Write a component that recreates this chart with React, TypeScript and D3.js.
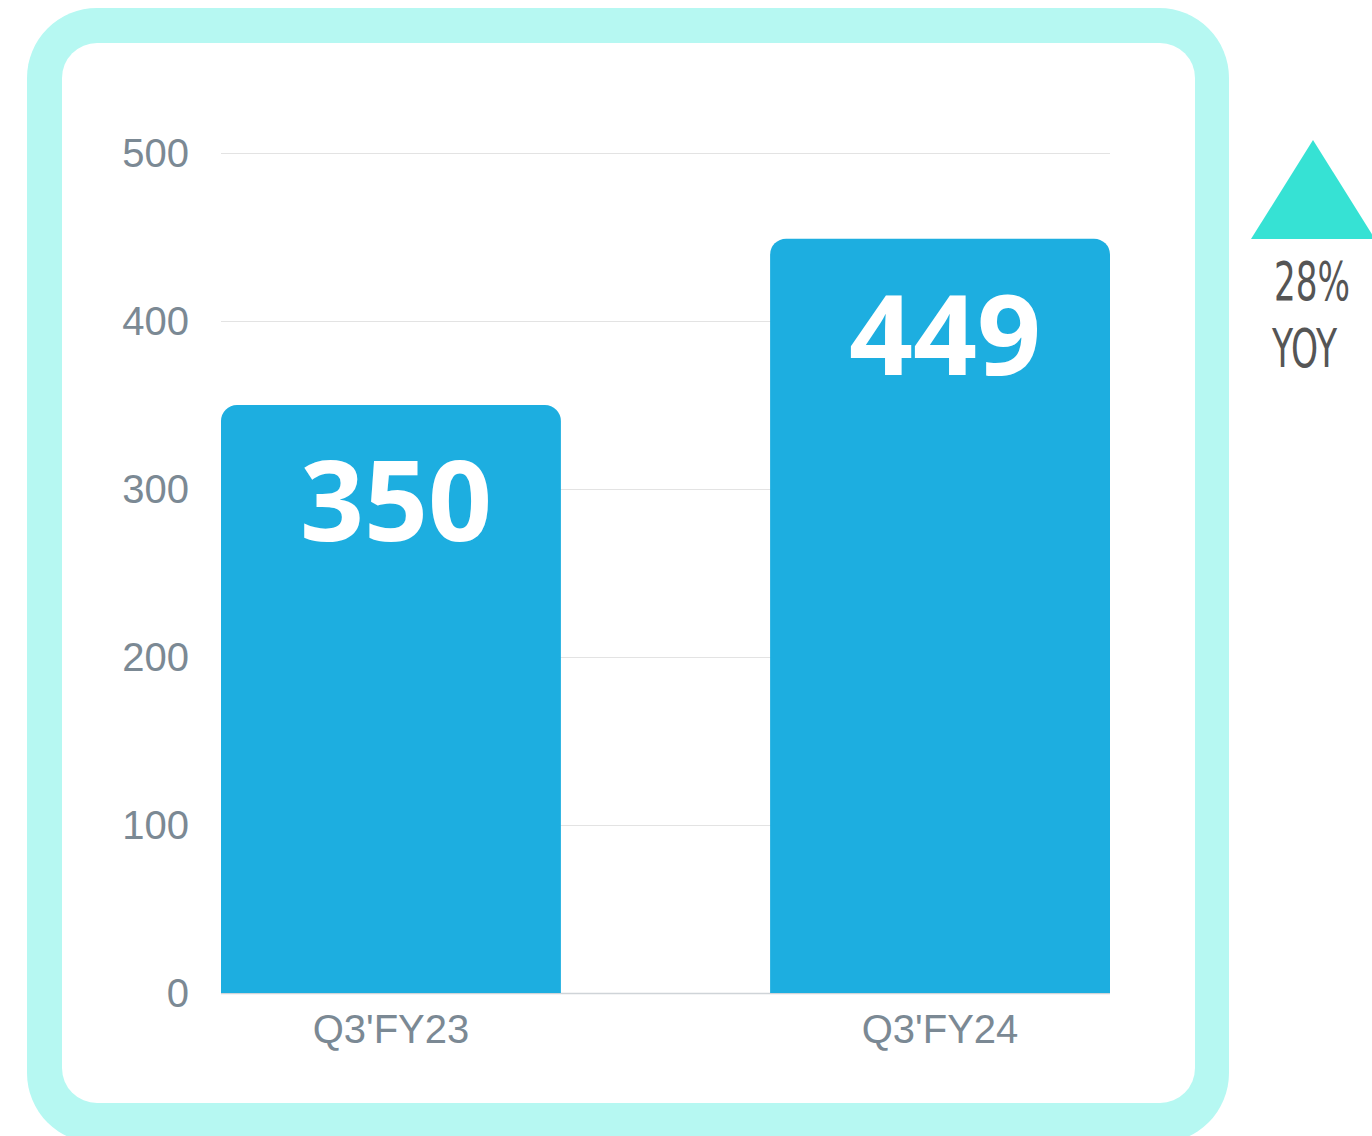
import React from "react";
import * as d3 from "d3";

const categories = ["Q3'FY23", "Q3'FY24"];
const values = [350, 449];
const yTicks = [0, 100, 200, 300, 400, 500];
const changeLabel = "28%";
const changeSub = "YOY";

export default function App() {
  const W = 1372, H = 1136;
  const x = d3.scaleBand<string>().domain(categories).range([221, 1110]).paddingInner(0.381).paddingOuter(0);
  const y = d3.scaleLinear().domain([0, 500]).range([993, 153]);
  const bw = x.bandwidth();
  const r = 16;
  const barPath = (cx: number, top: number, bottom: number) => {
    const p = d3.path();
    p.moveTo(cx, bottom);
    p.lineTo(cx, top + r);
    p.arcTo(cx, top, cx + r, top, r);
    p.lineTo(cx + bw - r, top);
    p.arcTo(cx + bw, top, cx + bw, top + r, r);
    p.lineTo(cx + bw, bottom);
    p.closePath();
    return p.toString();
  };
  return (
    <svg width={W} height={H} style={{ position: "absolute", left: 0, top: 0, display: "block" }}>
      <rect x={0} y={0} width={W} height={H} fill="#fff" />
      <rect x={27} y={8} width={1202} height={1135} rx={70} fill="#b6f8f2" />
      <rect x={62} y={43} width={1133} height={1060} rx={35} fill="#fff" />
      {yTicks.map((t) => (
        <g key={t}>
          {t > 0 && <line x1={221} x2={1110} y1={y(t) + 0.5} y2={y(t) + 0.5} stroke="#e3e3e3" strokeWidth={1} />}
          <text x={189} y={y(t)} dy="0.36em" textAnchor="end" fontFamily="Liberation Sans, Arial, sans-serif" fontSize={40} fill="#7b8994">{t}</text>
        </g>
      ))}
      <line x1={221} x2={1110} y1={y(0) + 0.5} y2={y(0) + 0.5} stroke="#cfd4d8" strokeWidth={1.5} />
      {categories.map((c, i) => (
        <g key={c}>
          <path d={barPath(x(c)!, y(values[i]), y(0))} fill="#1daee0" />
          <text x={x(c)! + bw / 2 + 5} y={y(values[i]) + 136} textAnchor="middle" fontFamily="Open Sans, Noto Sans, sans-serif" fontWeight={700} fontSize={112} fill="#fff">{values[i]}</text>
          <text x={x(c)! + bw / 2} y={1043} textAnchor="middle" fontFamily="Liberation Sans, Arial, sans-serif" fontSize={40} fill="#7b8994">{c}</text>
        </g>
      ))}
      <path d="M1313,140 L1375,239 L1251,239 Z" fill="#36e2d4" />
      <text x={1274} y={300} fontFamily="Liberation Sans Narrow, DejaVu Sans Condensed, sans-serif" fontSize={54} fill="#555" textLength={76} lengthAdjust="spacingAndGlyphs">{changeLabel}</text>
      <text x={1272} y={367} fontFamily="Liberation Sans Narrow, DejaVu Sans Condensed, sans-serif" fontSize={54} fill="#555" textLength={65} lengthAdjust="spacingAndGlyphs">{changeSub}</text>
    </svg>
  );
}
